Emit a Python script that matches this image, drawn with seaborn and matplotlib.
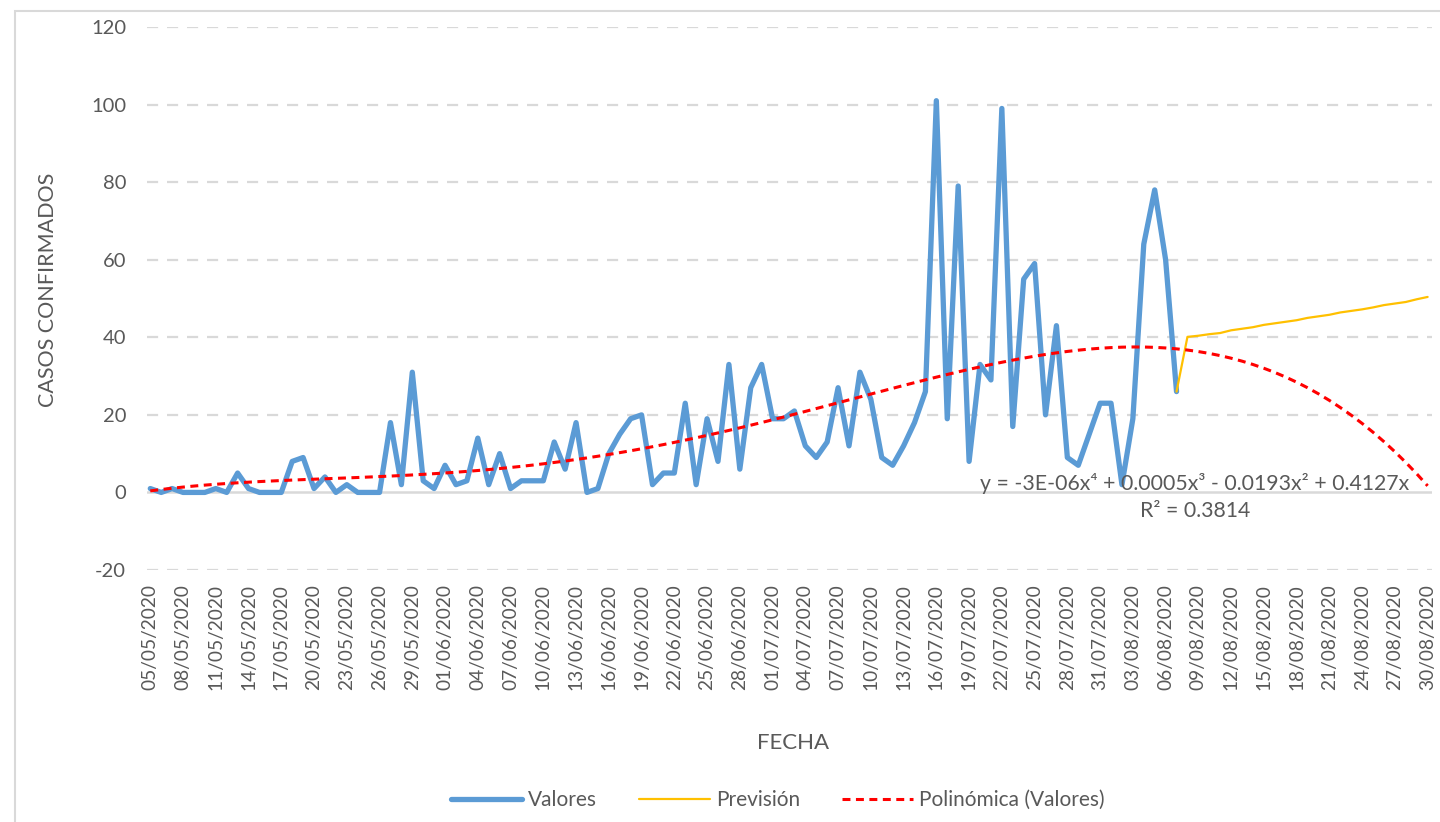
import numpy as np
import pandas as pd
import matplotlib
matplotlib.use("Agg")
import matplotlib.pyplot as plt
import matplotlib.patches as mpatches
import seaborn as sns

# daily confirmed cases, 05/05/2020 .. 07/08/2020
valores = [1, 0, 1, 0, 0, 0, 1, 0, 5, 1,
           0, 0, 0, 8, 9, 1, 4, 0, 2, 0,
           0, 0, 18, 2, 31, 3, 1, 7, 2, 3,
           14, 2, 10, 1, 3, 3, 3, 13, 6, 18,
           0, 1, 10, 15, 19, 20, 2, 5, 5, 23,
           2, 19, 8, 33, 6, 27, 33, 19, 19, 21,
           12, 9, 13, 27, 12, 31, 24, 9, 7, 12,
           18, 26, 101, 19, 79, 8, 33, 29, 99, 17,
           55, 59, 20, 43, 9, 7, 15, 23, 23, 2,
           19, 64, 78, 60, 26]

# forecast, 07/08/2020 .. 30/08/2020
prevision = [26, 40.1, 40.4, 40.8, 41.1, 41.8, 42.2, 42.6, 43.2, 43.6,
             44.0, 44.4, 45.0, 45.4, 45.8, 46.4, 46.8, 47.2, 47.7, 48.3,
             48.7, 49.1, 49.8, 50.4]

start_date = "2020-05-05"
end_date = "2020-08-30"

fechas = pd.date_range(start_date, end_date, freq="D")
n_total = len(fechas)
n_val = len(valores)

df_val = pd.DataFrame({"x": np.arange(n_val), "y": valores})
df_prev = pd.DataFrame({"x": np.arange(n_val - 1, n_val - 1 + len(prevision)), "y": prevision})

# 4th order polynomial trendline (no intercept), like Excel's
xs = np.arange(1, n_val + 1, dtype=float)
A = np.column_stack([xs ** 4, xs ** 3, xs ** 2, xs])
coef, *_ = np.linalg.lstsq(A, np.array(valores, dtype=float), rcond=None)
xt = np.arange(1, n_total + 1, dtype=float)
trend = np.column_stack([xt ** 4, xt ** 3, xt ** 2, xt]) @ coef
df_trend = pd.DataFrame({"x": np.arange(n_total), "y": trend})

sns.set_theme(style="white")
plt.rcParams["font.family"] = ["Lato", "DejaVu Sans"]
plt.rcParams["axes.unicode_minus"] = False
txt = "#595959"
grid_c = "#d9d9d9"

fig = plt.figure(figsize=(14.4, 8.22), dpi=100)
ax = fig.add_axes([147 / 1440, 1 - 570 / 822, (1432 - 147) / 1440, (570 - 27) / 822])

for yv in range(-20, 121, 20):
    if yv == 0:
        ax.axhline(0, color=grid_c, lw=1.8, zorder=0)
    else:
        ax.axhline(yv, color=grid_c, lw=1.6, ls=(0, (5, 4)), zorder=0)

sns.lineplot(data=df_val, x="x", y="y", ax=ax, color="#5B9BD5", linewidth=3.8,
             label="Valores", zorder=3)
sns.lineplot(data=df_prev, x="x", y="y", ax=ax, color="#FFC000", linewidth=1.6,
             label="Previsión", zorder=4)
sns.lineplot(data=df_trend, x="x", y="y", ax=ax, color="#FF0000", linewidth=2.2,
             linestyle=(0, (2.6, 1.8)), label="Polinómica (Valores)", zorder=5)

ax.set_xlim(-0.3, n_total - 0.6)
ax.set_ylim(-20, 120)
ax.set_yticks(range(-20, 121, 20))
ticks = list(range(0, n_total, 3))
ax.set_xticks(ticks)
ax.set_xticklabels([fechas[i].strftime("%d/%m/%Y") for i in ticks], rotation=90)
ax.tick_params(axis="x", length=0, pad=10, labelsize=13.8, colors=txt)
ax.tick_params(axis="y", length=0, pad=15, labelsize=14.5, colors=txt)
for s in ax.spines.values():
    s.set_visible(False)
ax.set_xlabel("")
ax.set_ylabel("")

fig.text(48 / 1440, 1 - 290 / 822, "CASOS CONFIRMADOS", rotation=90, ha="center",
         va="center", fontsize=15.5, color=txt)
fig.text(793 / 1440, 1 - 743 / 822, "FECHA", ha="center", va="center",
         fontsize=16, color=txt)

ax.text(1195 / 1440, 1 - 497 / 822,
        "y = -3E-06x⁴ + 0.0005x³ - 0.0193x² + 0.4127x\nR² = 0.3814",
        transform=fig.transFigure, ha="center", va="center", multialignment="center",
        fontsize=15.3, color=txt, linespacing=1.4, zorder=6)

ax.legend_.remove()
h, l = ax.get_legend_handles_labels()
fig.legend(h, l, loc="center", bbox_to_anchor=(778 / 1440, 1 - 800 / 822), ncol=3,
           frameon=False, fontsize=15, labelcolor=txt, handlelength=3.4,
           columnspacing=2.0, handletextpad=0.3)

fig.patches.append(mpatches.Rectangle((15 / 1440, -0.05), 1.2, 1 - 11 / 822 + 0.05,
                                      transform=fig.transFigure, fill=False,
                                      edgecolor=grid_c, lw=1.5))

plt.savefig("out.png", dpi=100)
